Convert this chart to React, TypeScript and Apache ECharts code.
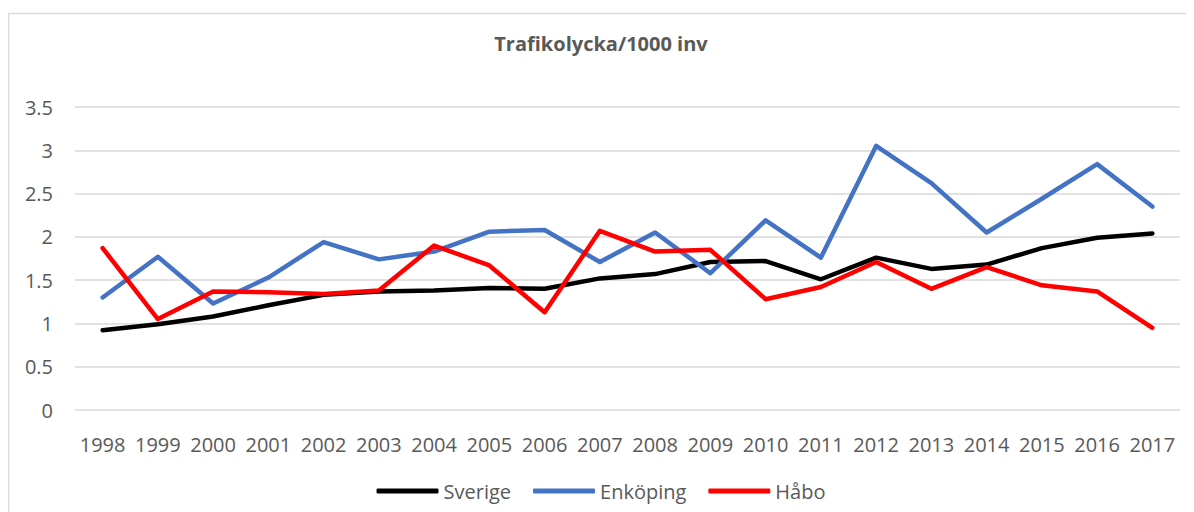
import React, { useEffect, useRef } from "react";
import * as echarts from "echarts";

const years = ["1998","1999","2000","2001","2002","2003","2004","2005","2006","2007","2008","2009","2010","2011","2012","2013","2014","2015","2016","2017"];
const sverige = [0.92,0.99,1.08,1.21,1.33,1.37,1.38,1.41,1.40,1.52,1.57,1.71,1.72,1.51,1.76,1.63,1.68,1.87,1.99,2.04];
const enkoping = [1.30,1.77,1.23,1.53,1.94,1.74,1.83,2.06,2.08,1.71,2.05,1.58,2.19,1.76,3.05,2.62,2.05,2.44,2.84,2.35];
const habo = [1.87,1.05,1.37,1.36,1.34,1.38,1.90,1.67,1.13,2.07,1.83,1.85,1.28,1.42,1.71,1.40,1.65,1.44,1.37,0.95];
const titleText = "Trafikolycka/1000 inv";

const FONT = "'Open Sans', 'Noto Sans', sans-serif";
const TXT = "#595959";

export default function App() {
  const ref = useRef<HTMLDivElement>(null);
  useEffect(() => {
    if (!ref.current) return;
    const chart = echarts.init(ref.current, undefined, { renderer: "svg" });
    const mk = (name: string, data: number[], color: string) => ({
      name,
      type: "line",
      data,
      symbol: "none",
      lineStyle: { color, width: 4.5, cap: "round", join: "round" },
      itemStyle: { color },
    });
    chart.setOption({
      animation: false,
      backgroundColor: "#ffffff",
      graphic: [
        {
          type: "rect",
          shape: { x: 0.5, y: 5.5, width: 1300, height: 700 },
          style: { fill: "none", stroke: "#d9d9d9", lineWidth: 1.5 },
          silent: true,
          z: -10,
        },
      ],
      title: {
        text: titleText,
        left: "center",
        top: 20,
        textStyle: { fontFamily: FONT, fontSize: 20, fontWeight: "bold", color: TXT },
      },
      legend: {
        bottom: 6,
        left: "center",
        icon: "roundRect",
        itemWidth: 62,
        itemHeight: 5,
        itemGap: 22,
        textStyle: { fontFamily: FONT, fontSize: 20, color: TXT },
        data: ["Sverige", "Enköping", "Håbo"],
      },
      grid: { left: 67, right: 14, top: 99, bottom: 102 },
      xAxis: {
        type: "category",
        data: years,
        boundaryGap: true,
        axisLine: { show: false },
        axisTick: { show: false },
        axisLabel: { fontFamily: FONT, fontSize: 20, color: TXT, margin: 24, interval: 0 },
      },
      yAxis: {
        type: "value",
        min: 0,
        max: 3.5,
        interval: 0.5,
        axisLine: { show: false },
        axisTick: { show: false },
        splitLine: { lineStyle: { color: "#d9d9d9", width: 1.5 } },
        axisLabel: { fontFamily: FONT, fontSize: 20, color: TXT, margin: 22 },
      },
      series: [
        mk("Sverige", sverige, "#000000"),
        mk("Enköping", enkoping, "#4472C4"),
        mk("Håbo", habo, "#FF0000"),
      ],
    });
    return () => chart.dispose();
  }, []);
  return <div ref={ref} style={{ width: 1186, height: 504 }} />;
}
